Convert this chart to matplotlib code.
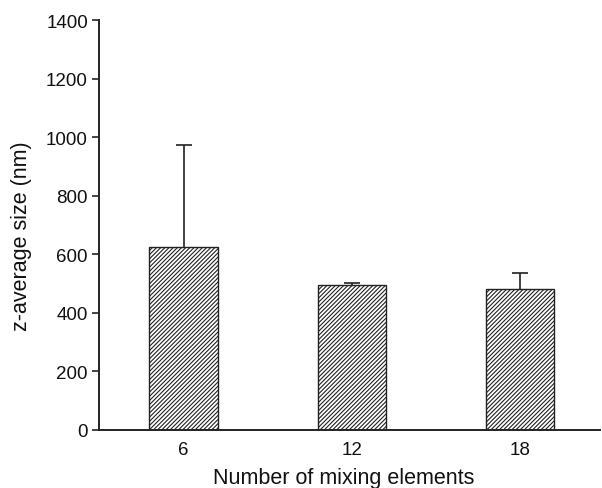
import matplotlib
matplotlib.use("Agg")
import matplotlib.pyplot as plt
import numpy as np

categories = ["6", "12", "18"]
means = [624, 495, 480]
err_upper = [350, 8, 57]

plt.rcParams['font.family'] = ['Liberation Sans', 'DejaVu Sans']
plt.rcParams['hatch.linewidth'] = 0.8
plt.rcParams['hatch.color'] = '#222222'

fig = plt.figure(figsize=(6.02, 4.89), dpi=100)
W, H = 602, 489
ax = fig.add_axes([99 / W, (H - 431) / H, (600 - 99) / W, (431 - 21) / H])

x = np.arange(len(categories))
ax.bar(x, means, width=0.405, color='white', edgecolor='#222222',
       linewidth=1.0, hatch='////////', zorder=2)
eb = ax.errorbar(x, means, yerr=[np.zeros(len(means)), err_upper], fmt='none',
                 ecolor='#222222', elinewidth=1.2, capsize=6, capthick=1.2, zorder=1)
# hide the lower caps (only upper error shown)
eb[1][0].set_visible(False)

ax.set_xlim(-0.502, 2.473)
ax.set_ylim(0, 1400)
ax.set_yticks(np.arange(0, 1401, 200))
ax.set_xticks(x)
ax.set_xticklabels(categories)
ax.tick_params(axis='y', direction='out', length=5, width=1.2, labelsize=13.5, pad=3, colors='#222222', labelcolor='#111111')
ax.tick_params(axis='x', length=0, labelsize=13.5, pad=8, labelcolor='#111111')

for s in ['top', 'right']:
    ax.spines[s].set_visible(False)
for s in ['left', 'bottom']:
    ax.spines[s].set_linewidth(1.4)
    ax.spines[s].set_color('#222222')

ax.set_xlabel("Number of mixing elements", fontsize=15.5, labelpad=6.5, color='#111111', x=0.488)
ax.set_ylabel("z-average size (nm)", fontsize=15.5, labelpad=10, color='#111111', y=0.476)

fig.savefig("out.png", dpi=100)
